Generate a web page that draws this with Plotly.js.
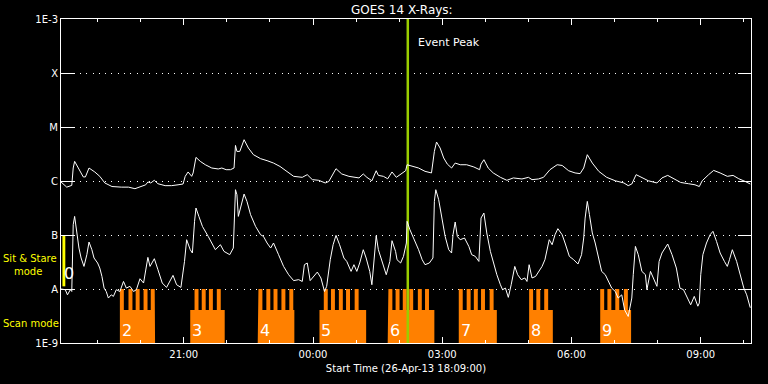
<!DOCTYPE html>
<html><head><meta charset="utf-8">
<script src="https://cdn.plot.ly/plotly-3.0.1.min.js"></script>
<style>html,body{margin:0;padding:0;background:#000;}#chart{width:768px;height:384px;}</style>
</head><body><div id="chart"></div>
<script>
// ---- data (times on 26/27-Apr-2013, flux in W/m^2) ----
const upperTimes = ["18:09","18:17","18:24","18:26","18:28","18:34","18:40","18:43","18:48","18:56",
"19:03","19:10","19:20","19:33","19:43","19:52","19:59","20:07","20:10","20:14",
"20:19","20:24","20:34","20:43","20:52","20:59","21:02","21:06","21:11","21:13",
"21:17","21:23","21:30","21:39","21:48","21:53","21:59","22:05","22:10","22:12",
"22:14","22:18","22:24","22:30","22:37","22:47","22:56","23:05","23:14","23:24",
"23:33","23:45","23:52","23:59","00:08","00:17","00:22","00:32","00:40","00:50",
"00:59","01:04","01:10","01:15","01:22","01:28","01:31","01:38","01:44","01:50",
"01:56","02:02","02:09","02:11","02:18","02:27","02:36","02:45","02:49","02:52",
"02:57","03:02","03:07","03:13","03:18","03:25","03:34","03:44","03:52","03:54",
"03:58","04:04","04:11","04:21","04:30","04:39","04:51","05:00","05:05","05:14",
"05:21","05:30","05:40","05:47","05:56","06:05","06:12","06:17","06:22","06:29",
"06:38","06:49","07:01","07:13","07:19","07:24","07:30","07:38","07:47","07:59",
"08:06","08:14","08:22","08:32","08:43","08:52","08:58","09:02","09:11","09:18",
"09:27","09:37","09:45","09:53","10:02","10:09"];
const upperFlux = [0.96e-6,0.77e-6,0.83e-6,1.74e-6,2.31e-6,1.62e-6,1.19e-6,1.19e-6,1.74e-6,1.47e-6,
1.22e-6,0.92e-6,0.79e-6,0.77e-6,0.77e-6,0.72e-6,0.77e-6,0.85e-6,0.96e-6,0.92e-6,
1.03e-6,0.89e-6,0.82e-6,0.82e-6,0.85e-6,0.88e-6,1.22e-6,1.47e-6,1.22e-6,1.41e-6,
2.74e-6,2.31e-6,2.0e-6,1.74e-6,1.67e-6,1.74e-6,1.62e-6,1.62e-6,1.74e-6,4.56e-6,
3.53e-6,3.53e-6,5.82e-6,4.08e-6,3.07e-6,2.59e-6,2.38e-6,2.15e-6,1.86e-6,1.47e-6,
1.22e-6,1.17e-6,1.31e-6,1.06e-6,1.03e-6,0.92e-6,0.98e-6,1.69e-6,1.35e-6,1.22e-6,
1.17e-6,1.14e-6,1.35e-6,1.17e-6,1.01e-6,1.55e-6,1.27e-6,1.22e-6,1.10e-6,1.47e-6,
1.17e-6,1.31e-6,1.55e-6,2.0e-6,1.86e-6,1.74e-6,1.51e-6,1.41e-6,3.53e-6,5.27e-6,
4.08e-6,2.67e-6,2.06e-6,1.74e-6,2.15e-6,2.0e-6,2.0e-6,1.82e-6,1.62e-6,2.06e-6,
2.48e-6,1.74e-6,1.41e-6,1.17e-6,1.03e-6,1.14e-6,1.09e-6,1.17e-6,1.06e-6,1.09e-6,
1.17e-6,1.62e-6,2.0e-6,1.94e-6,1.55e-6,1.41e-6,1.37e-6,1.74e-6,3.07e-6,2.15e-6,
1.51e-6,1.17e-6,1.01e-6,0.92e-6,0.82e-6,0.88e-6,1.31e-6,1.14e-6,1.01e-6,0.92e-6,
1.14e-6,1.27e-6,1.10e-6,0.94e-6,0.89e-6,0.85e-6,0.79e-6,1.01e-6,1.31e-6,1.57e-6,
1.41e-6,1.22e-6,1.27e-6,1.10e-6,0.98e-6,0.88e-6];

const lowerTimes = ["18:09","18:15","18:18","18:22","18:24","18:26","18:28","18:31","18:34","18:37",
"18:41","18:45","18:48","18:52","18:55","19:00","19:03","19:06","19:09","19:12",
"19:15","19:19","19:22","19:26","19:31","19:36","19:40","19:45","19:50","19:54",
"19:59","20:04","20:07","20:10","20:13","20:19","20:24","20:30","20:36","20:41",
"20:45","20:50","20:56","21:01","21:04","21:09","21:12","21:15","21:17","21:21",
"21:26","21:34","21:44","21:51","21:56","22:04","22:09","22:12","22:14","22:16",
"22:20","22:24","22:28","22:33","22:40","22:47","22:51","22:56","23:01","23:05",
"23:12","23:19","23:26","23:33","23:40","23:45","23:48","23:52","23:56","00:01",
"00:06","00:11","00:16","00:19","00:24","00:28","00:32","00:37","00:43","00:47",
"00:53","00:57","01:01","01:05","01:10","01:14","01:19","01:22","01:25","01:28",
"01:31","01:36","01:42","01:47","01:50","01:55","01:57","02:02","02:06","02:10",
"02:11","02:15","02:20","02:27","02:32","02:36","02:42","02:47","02:49","02:51",
"02:55","03:00","03:04","03:09","03:13","03:15","03:18","03:21","03:25","03:31",
"03:37","03:41","03:46","03:51","03:54","03:58","04:02","04:07","04:11","04:16",
"04:21","04:24","04:28","04:32","04:36","04:41","04:45","04:50","04:55","04:58",
"05:01","05:05","05:10","05:14","05:19","05:23","05:29","05:33","05:37","05:41",
"05:47","05:51","05:57","06:03","06:09","06:14","06:17","06:19","06:22","06:25",
"06:29","06:33","06:38","06:42","06:47","06:51","06:56","07:01","07:05","07:10",
"07:14","07:19","07:24","07:26","07:29","07:33","07:38","07:43","07:45","07:50",
"07:54","07:59","08:02","08:06","08:14","08:20","08:26","08:31","08:36","08:41",
"08:46","08:51","08:56","08:58","09:00","09:03","09:08","09:13","09:17","09:22",
"09:27","09:33","09:37","09:40","09:44","09:50","09:55","10:00","10:04","10:09"];
const lowerFlux = [1.0e-8,0.97e-8,0.78e-8,0.97e-8,0.90e-8,15.5e-8,22.1e-8,10.1e-8,5.74e-8,3.75e-8,
2.62e-8,4.32e-8,7.41e-8,5.34e-8,3.75e-8,3.03e-8,2.45e-8,1.71e-8,1.04e-8,0.90e-8,
0.68e-8,0.78e-8,0.73e-8,0.97e-8,0.90e-8,1.38e-8,1.04e-8,1.12e-8,0.90e-8,0.97e-8,
1.55e-8,1.29e-8,2.45e-8,3.85e-8,2.62e-8,3.64e-8,2.28e-8,1.29e-8,1.07e-8,1.38e-8,
1.79e-8,1.20e-8,1.07e-8,3.24e-8,8.18e-8,5.34e-8,4.64e-8,17.9e-8,31.6e-8,22.1e-8,
14.4e-8,9.42e-8,5.34e-8,6.61e-8,4.97e-8,4.32e-8,5.74e-8,69e-8,55.7e-8,22.1e-8,
36.4e-8,57.4e-8,41.9e-8,23.8e-8,14.4e-8,10.1e-8,9.42e-8,7.11e-8,5.74e-8,7.11e-8,
4.32e-8,2.62e-8,1.84e-8,1.43e-8,1.49e-8,1.38e-8,2.82e-8,3.03e-8,1.43e-8,1.71e-8,
2.06e-8,1.60e-8,0.90e-8,1.12e-8,3.49e-8,6.61e-8,9.84e-8,6.61e-8,3.75e-8,3.24e-8,
2.12e-8,2.82e-8,2.12e-8,3.03e-8,5.34e-8,3.75e-8,2.12e-8,1.20e-8,3.24e-8,9.7e-8,
5.34e-8,3.24e-8,1.84e-8,3.24e-8,7.84e-8,4.97e-8,3.49e-8,3.03e-8,4.02e-8,7.11e-8,
17.9e-8,12.5e-8,8.8e-8,5.34e-8,3.49e-8,2.82e-8,3.03e-8,3.75e-8,41.9e-8,69e-8,
45.1e-8,17.9e-8,9.42e-8,5.34e-8,4.64e-8,10.1e-8,17.4e-8,9.42e-8,8.18e-8,8.8e-8,
6.15e-8,4.32e-8,4.02e-8,3.24e-8,20.6e-8,25.5e-8,10.9e-8,4.97e-8,3.03e-8,1.84e-8,
1.20e-8,0.97e-8,1.04e-8,0.70e-8,1.20e-8,2.62e-8,1.84e-8,1.49e-8,1.60e-8,1.38e-8,
2.82e-8,1.60e-8,1.71e-8,2.12e-8,2.62e-8,3.49e-8,8.18e-8,6.61e-8,10.1e-8,13.1e-8,
10.1e-8,7.11e-8,4.02e-8,3.49e-8,2.9e-8,4.32e-8,8.8e-8,20.6e-8,41.9e-8,23.8e-8,
10.9e-8,7.11e-8,3.75e-8,2.12e-8,1.84e-8,1.38e-8,1.04e-8,0.90e-8,0.68e-8,0.78e-8,
0.41e-8,0.31e-8,0.68e-8,1.84e-8,6.15e-8,4.32e-8,2.12e-8,1.84e-8,0.97e-8,2.12e-8,
1.60e-8,1.12e-8,3.24e-8,4.64e-8,6.81e-8,4.32e-8,2.45e-8,1.04e-8,0.97e-8,0.68e-8,
0.51e-8,0.73e-8,0.48e-8,0.55e-8,1.84e-8,4.32e-8,7.11e-8,10.1e-8,11.7e-8,7.6e-8,
4.64e-8,3.24e-8,2.62e-8,3.49e-8,5.34e-8,3.24e-8,1.84e-8,1.04e-8,0.78e-8,0.45e-8];

const scanLabels = ["2","3","4","5","6","7","8","9"];
const scanStart  = ["19:31","21:09","22:43","00:09","01:44","03:23","05:01","06:40"];
const scanEnd    = ["20:20","21:57","23:34","01:14","02:49","04:16","05:34","07:23"];
const scanTeeth  = [
  ["19:31","19:43","19:53","20:04","20:14"],
  ["21:15","21:25","21:35","21:46"],
  ["22:44","22:55","23:05","23:16","23:27"],
  ["00:15","00:25","00:36","00:46","00:58"],
  ["01:45","01:55","02:05","02:14","02:26","02:36"],
  ["03:23","03:34","03:44","03:54","04:06"],
  ["05:01","05:11","05:22"],
  ["06:40","06:50","07:01","07:13"]
];
const toothMinutes = 5.5;
const sitLabel = "0";
const sitStart = "18:11", sitEnd = "18:15";
const eventPeak = "02:12";
const yTickVals = [1e-9,1e-8,1e-7,1e-6,1e-5,1e-4,1e-3];
const yTickText = ["1E-9","A","B","C","M","X","1E-3"];

// mode-indicator levels
const LEVEL_FLOOR = 1e-9, SCAN_BASE = 4.1e-9, SCAN_TOP = 1e-8, SIT_LOW = 1.12e-8, SIT_TOP = 1e-7;

function toMs(hm){
  const h = parseInt(hm.slice(0,2),10), m = parseInt(hm.slice(3,5),10);
  const day = h >= 18 ? 26 : 27;
  return Date.UTC(2013,3,day,h,m);
}
const ORANGE = '#ff8000';
const traces = [];

scanStart.forEach((s,i)=>{
  const bs = toMs(s), be = toMs(scanEnd[i]);
  const xs=[bs,bs], ys=[LEVEL_FLOOR,SCAN_BASE];
  scanTeeth[i].forEach(t=>{
    const t0 = toMs(t), t1 = t0 + toothMinutes*60000;
    xs.push(t0,t0,t1,t1); ys.push(SCAN_BASE,SCAN_TOP,SCAN_TOP,SCAN_BASE);
  });
  xs.push(be,be,bs); ys.push(SCAN_BASE,LEVEL_FLOOR,LEVEL_FLOOR);
  traces.push({x:xs,y:ys,type:'scatter',mode:'lines',fill:'toself',fillcolor:ORANGE,
    line:{width:0,color:ORANGE},hoverinfo:'skip'});
});

// sit & stare bar
{
  const a = toMs(sitStart), b = toMs(sitEnd);
  traces.push({x:[a,a,b,b,a],y:[SIT_LOW,SIT_TOP,SIT_TOP,SIT_LOW,SIT_LOW],type:'scatter',mode:'lines',
    fill:'toself',fillcolor:'#ffff00',line:{width:0,color:'#ffff00'},hoverinfo:'skip'});
}
// event peak line
traces.push({x:[toMs(eventPeak),toMs(eventPeak)],y:[1e-9,1e-3],type:'scatter',mode:'lines',
  line:{color:'#9acd00',width:2.5},hoverinfo:'skip'});
// curves
traces.push({x:upperTimes.map(toMs),y:upperFlux,type:'scatter',mode:'lines',line:{color:'#ffffff',width:1}});
traces.push({x:lowerTimes.map(toMs),y:lowerFlux,type:'scatter',mode:'lines',line:{color:'#ffffff',width:1}});

const annotations = [];
scanStart.forEach((s,i)=>{
  annotations.push({x:toMs(s),xref:'x',xanchor:'left',xshift:0,y:0,yref:'paper',yanchor:'bottom',yshift:1,
    text:scanLabels[i],showarrow:false,font:{size:16,color:'#ffffff'}});
});
annotations.push({x:toMs(sitEnd),xref:'x',xanchor:'left',xshift:-3,y:0.216,yref:'paper',yanchor:'middle',
  text:sitLabel,showarrow:false,font:{size:16,color:'#ffffff'}});
annotations.push({x:toMs(eventPeak),xref:'x',xanchor:'left',xshift:8,y:0.926,yref:'paper',yanchor:'middle',
  text:'Event Peak',showarrow:false,font:{size:11,color:'#ffffff'}});
annotations.push({x:0,xref:'paper',xanchor:'left',xshift:-60,y:0.262,yref:'paper',yanchor:'middle',
  text:'Sit & Stare',showarrow:false,font:{size:10,color:'#ffff00'}});
annotations.push({x:0,xref:'paper',xanchor:'left',xshift:-49,y:0.22,yref:'paper',yanchor:'middle',
  text:'mode',showarrow:false,font:{size:10,color:'#ffff00'}});
annotations.push({x:0,xref:'paper',xanchor:'left',xshift:-60,y:0.061,yref:'paper',yanchor:'middle',
  text:'Scan mode',showarrow:false,font:{size:10,color:'#ffff00'}});

const layout = {
  width:768,height:384,
  paper_bgcolor:'#000',plot_bgcolor:'#000',
  margin:{l:61,r:17,t:19,b:41},
  font:{family:'DejaVu Sans, sans-serif',color:'#ffffff',size:10},
  showlegend:false,
  title:{text:'GOES 14 X-Rays:',font:{size:12,color:'#ffffff'},x:0.494,xref:'paper',xanchor:'center',
    y:1-10/384,yref:'container',yanchor:'middle'},
  xaxis:{type:'date',range:[Date.UTC(2013,3,26,18,9),Date.UTC(2013,3,27,10,10)],
    showline:true,linecolor:'#ffffff',linewidth:1,mirror:'ticks',
    ticks:'inside',ticklen:6,tickcolor:'#ffffff',tickwidth:1,ticklabelstandoff:2,
    tickmode:'linear',tick0:Date.UTC(2013,3,26,21,0),dtick:3*3600000,tickformat:'%H:%M',
    minor:{ticks:'inside',ticklen:3,tickcolor:'#ffffff',tickwidth:1,tick0:Date.UTC(2013,3,26,21,0),dtick:3600000,showgrid:false},
    showgrid:false,zeroline:false,tickfont:{size:10,color:'#ffffff'},
    title:{text:'Start Time (26-Apr-13 18:09:00)',font:{size:10,color:'#ffffff'},standoff:5}},
  yaxis:{type:'log',range:[-9,-3],showline:true,linecolor:'#ffffff',linewidth:1,mirror:'ticks',
    ticks:'inside',ticklen:13,tickcolor:'#ffffff',tickwidth:1,
    tickmode:'array',tickvals:yTickVals,ticktext:yTickText,
    showgrid:true,gridcolor:'#ffffff',gridwidth:1,griddash:'1px,5.3px',zeroline:false,
    tickfont:{size:10,color:'#ffffff'}},
  annotations:annotations
};
Plotly.newPlot('chart',traces,layout,{staticPlot:true,displayModeBar:false});
</script></body></html>
